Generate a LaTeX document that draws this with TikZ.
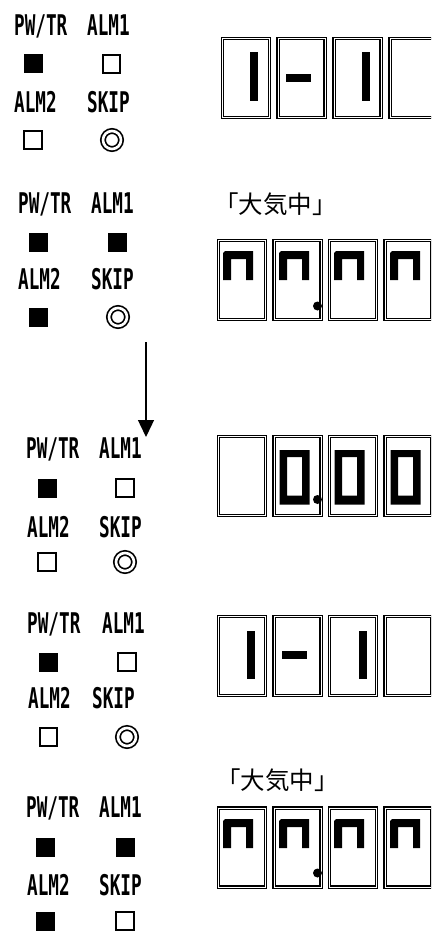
\documentclass[tikz,border=0pt]{standalone}
\usepackage{fontspec}
\usepackage{tikz}
\usetikzlibrary{arrows.meta,positioning}
\newfontfamily\lampfont[FakeStretch=0.62]{DejaVu Sans Mono}
\newfontfamily\jpfont{Noto Sans CJK JP}

\begin{document}
\begin{tikzpicture}[x=1pt, y=-1pt,
    lamptxt/.style={font=\lampfont\bfseries\fontsize{28.5}{30}\selectfont, anchor=base west, inner sep=0pt},
    lampon/.style={fill=black, minimum size=19pt, inner sep=0pt},
    lampoff/.style={draw, line width=1.8pt, minimum size=17.5pt, inner sep=0pt},
    lampflash/.style={circle, draw, double, line width=1.7pt, double distance=2.6pt, minimum size=18pt, inner sep=0pt},
    digbox/.style={draw, double, line width=1.4pt, double distance=0.8pt, minimum width=47pt, minimum height=79pt, inner sep=0pt},
    note/.style={font=\jpfont\fontsize{24.5}{26}\selectfont, anchor=west, inner sep=0pt},
    seg/.style={fill=black}]
    \path[use as bounding box] (0,0) rectangle (431,931);
    \clip (0,0) rectangle (431,931);

    % panel 1
    \node[lamptxt] (lbl1a) at (14,36) {PW/TR};
    \node[lamptxt] (lbl1b) at (87,36) {ALM1};
    \node[lamptxt] (lbl1c) at (14,113) {ALM2};
    \node[lamptxt] (lbl1d) at (87,113) {SKIP};
    \node[lampon] (led1a) at (33,64) {};
    \node[lampoff] (led1b) at (111.5,64) {};
    \node[lampoff] (led1c) at (33,140) {};
    \node[lampflash] (led1d) at (112,140) {};
    \node[digbox] (dig1a) at (246,78) {};
    \node[digbox] (dig1b) at (301.5,78) {};
    \node[digbox] (dig1c) at (357.5,78) {};
    \node[digbox] (dig1d) at (413.5,78) {};
    \fill[seg] (250,52.5) rectangle (258,101.5);
    \fill[seg] (286,74) rectangle (311,82);
    \fill[seg] (362,52.5) rectangle (370,101.5);

    % panel 2
    \node[lamptxt] (lbl2a) at (18,213) {PW/TR};
    \node[lamptxt] (lbl2b) at (91,213) {ALM1};
    \node[lamptxt] (lbl2c) at (18,289) {ALM2};
    \node[lamptxt] (lbl2d) at (91,289) {SKIP};
    \node[lampon] (led2a) at (38,242) {};
    \node[lampon] (led2b) at (117,242) {};
    \node[lampon] (led2c) at (38,317) {};
    \node[lampflash] (led2d) at (118,317) {};
    \node[note] (note2) at (214,204) {「大気中」};
    \node[digbox] (dig2a) at (242,280) {};
    \node[digbox] (dig2b) at (297.5,280) {};
    \node[digbox] (dig2c) at (353,280) {};
    \node[digbox] (dig2d) at (408.5,280) {};
    \begin{scope}[shift={(217,239)}]
        \fill[seg] (6,41) -- (6,14) -- (8,12) -- (36,12) -- (36,41) -- (29,41) -- (29,20) -- (14,20) -- (14,41) -- cycle;
    \end{scope}
    \begin{scope}[shift={(273,239)}]
        \fill[seg] (6,41) -- (6,14) -- (8,12) -- (36,12) -- (36,41) -- (29,41) -- (29,20) -- (14,20) -- (14,41) -- cycle;
        \fill[seg] (44.5,67) circle (4.5);
    \end{scope}
    \begin{scope}[shift={(328,239)}]
        \fill[seg] (6,41) -- (6,14) -- (8,12) -- (36,12) -- (36,41) -- (29,41) -- (29,20) -- (14,20) -- (14,41) -- cycle;
    \end{scope}
    \begin{scope}[shift={(384,239)}]
        \fill[seg] (6,41) -- (6,14) -- (8,12) -- (36,12) -- (36,41) -- (29,41) -- (29,20) -- (14,20) -- (14,41) -- cycle;
    \end{scope}

    \coordinate (arrtop) at (146,342);
    \coordinate (arrtip) at (146,437);
    \draw[line width=1.4pt, -{Triangle[length=17pt, width=16pt]}] (arrtop) -- (arrtip);

    % panel 3
    \node[lamptxt] (lbl3a) at (26,458) {PW/TR};
    \node[lamptxt] (lbl3b) at (99,458) {ALM1};
    \node[lamptxt] (lbl3c) at (27,537) {ALM2};
    \node[lamptxt] (lbl3d) at (99,537) {SKIP};
    \node[lampon] (led3a) at (47,488) {};
    \node[lampoff] (led3b) at (125,488) {};
    \node[lampoff] (led3c) at (47,562) {};
    \node[lampflash] (led3d) at (125,562) {};
    \node[digbox] (dig3a) at (242,476) {};
    \node[digbox] (dig3b) at (297.5,476) {};
    \node[digbox] (dig3c) at (353,476) {};
    \node[digbox] (dig3d) at (408.5,476) {};
    \begin{scope}[shift={(273,435)}]
        \fill[seg, even odd rule] (6.5,15) rectangle (36.5,69.5) (14,22) rectangle (29,60.5);
        \fill[seg] (44.5,64.5) circle (4.5);
    \end{scope}
    \begin{scope}[shift={(328,435)}]
        \fill[seg, even odd rule] (6.5,15) rectangle (36.5,69.5) (14,22) rectangle (29,60.5);
    \end{scope}
    \begin{scope}[shift={(384,435)}]
        \fill[seg, even odd rule] (6.5,15) rectangle (36.5,69.5) (14,22) rectangle (29,60.5);
    \end{scope}

    % panel 4
    \node[lamptxt] (lbl4a) at (27,633) {PW/TR};
    \node[lamptxt] (lbl4b) at (102,633) {ALM1};
    \node[lamptxt] (lbl4c) at (28,708) {ALM2};
    \node[lamptxt] (lbl4d) at (92,708) {SKIP};
    \node[lampon] (led4a) at (48.5,662) {};
    \node[lampoff] (led4b) at (127,662) {};
    \node[lampoff] (led4c) at (48.5,737) {};
    \node[lampflash] (led4d) at (127,737) {};
    \node[digbox] (dig4a) at (242,656) {};
    \node[digbox] (dig4b) at (297.5,656) {};
    \node[digbox] (dig4c) at (353,656) {};
    \node[digbox] (dig4d) at (408.5,656) {};
    \fill[seg] (247,631) rectangle (254.5,679);
    \fill[seg] (282,651) rectangle (307,659);
    \fill[seg] (359,631) rectangle (366.5,679);

    % panel 5
    \node[lamptxt] (lbl5a) at (26,817) {PW/TR};
    \node[lamptxt] (lbl5b) at (99,817) {ALM1};
    \node[lamptxt] (lbl5c) at (27,895) {ALM2};
    \node[lamptxt] (lbl5d) at (99,895) {SKIP};
    \node[lampon] (led5a) at (45,921) {};
    \node[lampon] (led5b) at (125,847) {};
    \node[lampon] (led5c) at (45,847) {};
    \node[lampoff] (led5d) at (125,921) {};
    \node[note] (note5) at (216,780) {「大気中」};
    \node[digbox] (dig5a) at (242,847.5) {};
    \node[digbox] (dig5b) at (297.5,847.5) {};
    \node[digbox] (dig5c) at (353,847.5) {};
    \node[digbox] (dig5d) at (408.5,847.5) {};
    \begin{scope}[shift={(217,807)}]
        \fill[seg] (6,41) -- (6,14) -- (8,12) -- (36,12) -- (36,41) -- (29,41) -- (29,20) -- (14,20) -- (14,41) -- cycle;
    \end{scope}
    \begin{scope}[shift={(273,807)}]
        \fill[seg] (6,41) -- (6,14) -- (8,12) -- (36,12) -- (36,41) -- (29,41) -- (29,20) -- (14,20) -- (14,41) -- cycle;
        \fill[seg] (44.5,66) circle (4.5);
    \end{scope}
    \begin{scope}[shift={(328,807)}]
        \fill[seg] (6,41) -- (6,14) -- (8,12) -- (36,12) -- (36,41) -- (29,41) -- (29,20) -- (14,20) -- (14,41) -- cycle;
    \end{scope}
    \begin{scope}[shift={(384,807)}]
        \fill[seg] (6,41) -- (6,14) -- (8,12) -- (36,12) -- (36,41) -- (29,41) -- (29,20) -- (14,20) -- (14,41) -- cycle;
    \end{scope}
\end{tikzpicture}
\end{document}
